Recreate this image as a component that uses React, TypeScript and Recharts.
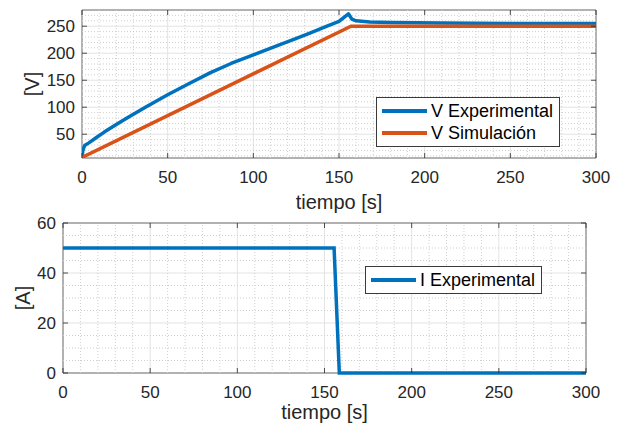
import React from "react";
import {
  CartesianGrid,
  Legend,
  Line,
  LineChart,
  ReferenceArea,
  ReferenceLine,
  XAxis,
  YAxis,
} from "recharts";

// voltage, experimental
const vExpTime = [0, 0.5, 1.5, 4, 8, 13, 20, 27, 37, 50, 62, 75, 87, 100, 114, 124, 133, 143, 150, 155.5, 157.5, 160, 168, 180, 210, 250, 300];
const vExpValue = [8, 20, 29, 34, 43, 54, 68, 81.5, 100, 123, 143, 164, 181, 197, 214, 226, 237, 250, 259, 273, 263, 260, 258, 257, 256, 255, 255];

// voltage, simulation
const vSimTime = [0, 157, 300];
const vSimValue = [7, 250, 250];

// current, experimental
const iExpTime = [0, 155.5, 158.5, 300];
const iExpValue = [50, 50, 0, 0];

const xTicks = [0, 50, 100, 150, 200, 250, 300];
const vTicks = [50, 100, 150, 200, 250];
const iTicks = [0, 20, 40, 60];

const xMinor = [10, 20, 30, 40, 60, 70, 80, 90, 110, 120, 130, 140, 160, 170, 180, 190, 210, 220, 230, 240, 260, 270, 280, 290];
const vMinor = [10, 20, 30, 40, 60, 70, 80, 90, 110, 120, 130, 140, 160, 170, 180, 190, 210, 220, 230, 240, 260, 270];
const iMinor = [5, 10, 15, 25, 30, 35, 45, 50, 55];

const vData = vExpTime.map((t, i) => ({ t, v: vExpValue[i] }));
const vSimData = vSimTime.map((t, i) => ({ t, v: vSimValue[i] }));
const iData = iExpTime.map((t, i) => ({ t, a: iExpValue[i] }));

const BLUE = "#0072BD";
const ORANGE = "#D95319";
const INK = "#262626";
const FONT = "'Liberation Sans', Arial, sans-serif";

const XTick = ({ x, y, payload, plotH }: any) => (
  <g>
    <line x1={x} y1={y} x2={x} y2={y - 5} stroke={INK} strokeWidth={0.8} />
    <line x1={x} y1={y - plotH} x2={x} y2={y - plotH + 5} stroke={INK} strokeWidth={0.8} />
    <text x={x} y={y + 24.5} textAnchor="middle" fontSize={17} fill={INK} fontFamily={FONT}>
      {payload.value}
    </text>
  </g>
);

const YTick = ({ x, y, payload, plotW }: any) => (
  <g>
    <line x1={x} y1={y} x2={x + 5} y2={y} stroke={INK} strokeWidth={0.8} />
    <line x1={x + plotW} y1={y} x2={x + plotW - 5} y2={y} stroke={INK} strokeWidth={0.8} />
    <text x={x - 7} y={y + 6} textAnchor="end" fontSize={17} fill={INK} fontFamily={FONT}>
      {payload.value}
    </text>
  </g>
);

const XTitle = ({ viewBox, dy }: any) => (
  <text
    x={viewBox.x + viewBox.width / 2}
    y={viewBox.y + dy}
    textAnchor="middle"
    fontSize={20}
    fill={INK}
    fontFamily={FONT}
  >
    tiempo [s]
  </text>
);

const YTitle = ({ viewBox, text }: any) => {
  const cx = viewBox.x + 9.5;
  const cy = viewBox.y + viewBox.height / 2;
  return (
    <text
      x={cx}
      y={cy}
      textAnchor="middle"
      dominantBaseline="central"
      transform={`rotate(-90, ${cx}, ${cy})`}
      fontSize={20}
      fill={INK}
      fontFamily={FONT}
    >
      {text}
    </text>
  );
};

const LegendBox = ({ payload }: any) => (
  <div
    style={{
      display: "inline-block",
      whiteSpace: "nowrap",
      border: "1px solid #3a3a3a",
      background: "#fff",
      padding: "2px 6px 2px 5px",
      fontFamily: FONT,
      fontSize: 18,
      color: "#000",
      lineHeight: "22px",
    }}
  >
    {(payload || []).map((p: any) => (
      <div key={p.value} style={{ display: "flex", alignItems: "center" }}>
        <span style={{ display: "inline-block", width: 45, height: 4, background: p.color, marginRight: 4 }} />
        <span>{p.value}</span>
      </div>
    ))}
  </div>
);

export default function App() {
  const topPlotH = 148;
  const topPlotW = 514;
  const botPlotH = 150;
  const botPlotW = 523;
  return (
    <div style={{ position: "absolute", left: 0, top: 0, width: 620, height: 425, background: "#fff" }}>
      <div style={{ position: "absolute", left: 0, top: 0 }}>
        <LineChart width={620} height={215} margin={{ top: 10, right: 24, bottom: 7, left: 22 }}>
          <CartesianGrid stroke="#e3e3e3" strokeWidth={1} />
          {xMinor.map((m) => (
            <ReferenceLine key={`vx${m}`} x={m} stroke="#cfcfcf" strokeDasharray="1 2" />
          ))}
          {vMinor.map((m) => (
            <ReferenceLine key={`vy${m}`} y={m} stroke="#cfcfcf" strokeDasharray="1 2" />
          ))}
          <XAxis
            dataKey="t"
            type="number"
            domain={[0, 300]}
            ticks={xTicks}
            allowDataOverflow
            height={50}
            tickSize={0}
            tickMargin={0}
            axisLine={false}
            tickLine={false}
            tick={(p: any) => <XTick {...p} plotH={topPlotH} />}
            label={<XTitle dy={51} />}
          />
          <YAxis
            type="number"
            domain={[6, 280]}
            ticks={vTicks}
            allowDataOverflow
            width={60}
            tickSize={0}
            tickMargin={0}
            axisLine={false}
            tickLine={false}
            tick={(p: any) => <YTick {...p} plotW={topPlotW} />}
            label={<YTitle text="[V]" />}
          />
          <Line
            data={vData}
            dataKey="v"
            name="V Experimental"
            stroke={BLUE}
            strokeWidth={3.5}
            dot={false}
            type="linear"
            strokeLinejoin="round"
            isAnimationActive={false}
          />
          <Line
            data={vSimData}
            dataKey="v"
            name="V Simulación"
            stroke={ORANGE}
            strokeWidth={3.5}
            dot={false}
            type="linear"
            isAnimationActive={false}
          />
          <ReferenceArea x1={0} x2={300} y1={6} y2={280} fill="none" stroke="#737373" strokeWidth={1} />
          <Legend
            layout="vertical"
            align="center"
            verticalAlign="middle"
            content={<LegendBox />}
            wrapperStyle={{ left: 376, top: 97, width: "auto" }}
          />
        </LineChart>
      </div>
      <div style={{ position: "absolute", left: 0, top: 210 }}>
        <LineChart width={620} height={215} margin={{ top: 13, right: 34, bottom: 2, left: 13 }}>
          <CartesianGrid stroke="#e3e3e3" strokeWidth={1} />
          {xMinor.map((m) => (
            <ReferenceLine key={`ix${m}`} x={m} stroke="#cfcfcf" strokeDasharray="1 2" />
          ))}
          {iMinor.map((m) => (
            <ReferenceLine key={`iy${m}`} y={m} stroke="#cfcfcf" strokeDasharray="1 2" />
          ))}
          <XAxis
            dataKey="t"
            type="number"
            domain={[0, 300]}
            ticks={xTicks}
            height={50}
            tickSize={0}
            tickMargin={0}
            axisLine={false}
            tickLine={false}
            tick={(p: any) => <XTick {...p} plotH={botPlotH} />}
            label={<XTitle dy={46} />}
          />
          <YAxis
            type="number"
            domain={[0, 60]}
            ticks={iTicks}
            width={50}
            tickSize={0}
            tickMargin={0}
            axisLine={false}
            tickLine={false}
            tick={(p: any) => <YTick {...p} plotW={botPlotW} />}
            label={<YTitle text="[A]" />}
          />
          <Line
            data={iData}
            dataKey="a"
            name="I Experimental"
            stroke={BLUE}
            strokeWidth={3.5}
            dot={false}
            type="linear"
            isAnimationActive={false}
          />
          <ReferenceArea x1={0} x2={300} y1={0} y2={60} fill="none" stroke="#737373" strokeWidth={1} />
          <Legend
            layout="vertical"
            align="center"
            verticalAlign="middle"
            content={<LegendBox />}
            wrapperStyle={{ left: 365, top: 56, width: "auto" }}
          />
        </LineChart>
      </div>
    </div>
  );
}
